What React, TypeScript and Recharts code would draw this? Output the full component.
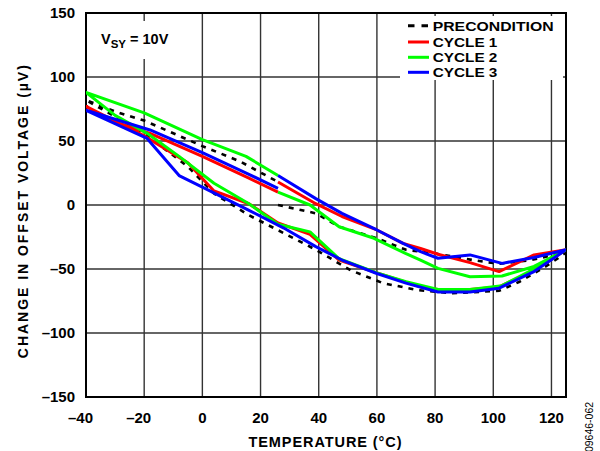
import React from "react";
import { LineChart, Line, XAxis, YAxis, CartesianGrid, ReferenceArea, Legend } from "recharts";

const xTicks = [-40, -20, 0, 20, 40, 60, 80, 100, 120];
const yTicks = [-150, -100, -50, 0, 50, 100, 150];

const preT = [26, 39, 47, 60, 70, 79, 93, 102, 113, 125, 122, 118, 109, 102, 86, 74, 62, 51, 39, 28, 16, 4, -5, -20, -40, -30, -20, 0, 13, 26];
const preV = [0, -6.5, -17, -26, -35, -37.5, -43, -46, -43, -37, -42, -48, -60, -67, -69, -66.5, -61, -51, -35, -22, -8, 9, 30, 56, 82, 73, 66, 46, 34, 18];

const redT = [26, 39, 48, 60, 69, 75, 81, 92, 102, 114, 125, 114, 102, 92, 81, 75, 60, 47, 37, 26, 16, 4, -5, -20, -40, -30, -18, 0, 16, 26];
const redV = [18, 1, -9, -19.5, -30, -34, -38.5, -45, -52, -39, -35, -51, -64, -66, -66, -64, -53, -43, -23, -14, 1, 11, 33, 54, 77, 65, 56, 38, 21, 10];

const greenT = [26, 37, 47, 59, 70, 75, 81, 92, 103, 114, 125, 114, 103, 92, 81, 70, 60, 47, 37, 26, 16, 4, -8, -19, -30, -40, -20, 0, 15, 26];
const greenV = [10, 0, -17, -26, -38, -43, -49.5, -56, -55.5, -48, -35, -50, -63, -66, -66, -60, -53, -42, -21, -15, 1, 17, 38, 56, 70, 88, 72, 51, 38, 23];

const blueT = [26, 39, 48, 60, 69, 75, 81, 92, 103, 114, 125, 114, 102, 92, 81, 70, 60, 48, 39, 28, 15, 0, -8, -19, -40, -30, -18, 0, 16, 26];
const blueV = [23, 5, -6.5, -19.5, -30, -36.5, -41.6, -39, -45.6, -41, -35, -52, -65, -68, -68, -61, -53.5, -43, -32.5, -18, -3, 14, 23, 52, 74, 67, 58.6, 41, 24, 13];

const seriesNames = ["PRECONDITION", "CYCLE 1", "CYCLE 2", "CYCLE 3"];
const seriesColors = ["#000000", "#ff0000", "#00ff00", "#0000ff"];

const zip = (t: number[], v: number[]) => t.map((x, i) => ({ t: x, v: v[i] }));
const preData = zip(preT, preV);
const redData = zip(redT, redV);
const greenData = zip(greenT, greenV);
const blueData = zip(blueT, blueV);

const FONT = "'Liberation Sans', Arial, Helvetica, sans-serif";
const fmt = (v: number) => (v < 0 ? "\u2013" + Math.abs(v) : String(v));

const XTick = (props: any) => {
  const { x, y, payload } = props;
  const v = payload.value as number;
  return (
    <text x={x + (v < 0 ? -5.5 : 0)} y={y + 17.5} textAnchor="middle" fontFamily={FONT} fontWeight="bold" fontSize={15} fill="#000">
      {fmt(v)}
    </text>
  );
};

const YTick = (props: any) => {
  const { x, y, payload } = props;
  return (
    <text x={x - 3} y={y + 5.4} textAnchor="end" fontFamily={FONT} fontWeight="bold" fontSize={15} fill="#000">
      {fmt(payload.value as number)}
    </text>
  );
};

const LegendBox = () => (
  <svg width={163} height={64} style={{ display: "block" }}>
    {seriesNames.map((name, i) => {
      const cy = [9.7, 26, 41.3, 56.3][i];
      return (
        <g key={name}>
          <line x1={8} x2={29} y1={cy} y2={cy} stroke={seriesColors[i]} strokeWidth={3} strokeDasharray={i === 0 ? "6.5 7" : undefined} />
          <text x={32.7} y={cy + 5} fontFamily={FONT} fontWeight="bold" fontSize={13.5} fill="#000" textLength={i === 0 ? 121 : 64.7} lengthAdjust="spacingAndGlyphs">
            {name}
          </text>
        </g>
      );
    })}
  </svg>
);

export default function App() {
  return (
    <div style={{ position: "absolute", left: 0, top: 0, width: 600, height: 451, background: "#fff" }}>
      <LineChart width={600} height={451} margin={{ top: 13, right: 34, left: 0, bottom: 0 }}>
        <CartesianGrid stroke="#333333" strokeWidth={1.4} />
        <XAxis type="number" dataKey="t" domain={[-40, 125]} ticks={xTicks} allowDataOverflow height={54} tickLine={false} axisLine={false} tick={<XTick />} interval={0} />
        <YAxis type="number" dataKey="v" domain={[-150, 150]} ticks={yTicks} allowDataOverflow width={86} tickLine={false} axisLine={false} tick={<YTick />} interval={0} />
        <ReferenceArea x1={-40} x2={125} y1={-150} y2={150} fill="none" stroke="#000" strokeWidth={2} fillOpacity={0} />
        <Line data={preData} dataKey="v" name={seriesNames[0]} stroke={seriesColors[0]} strokeWidth={2.6} strokeDasharray="5 6" dot={false} isAnimationActive={false} type="linear" />
        <Line data={redData} dataKey="v" name={seriesNames[1]} stroke={seriesColors[1]} strokeWidth={3} dot={false} isAnimationActive={false} type="linear" strokeLinejoin="round" />
        <Line data={greenData} dataKey="v" name={seriesNames[2]} stroke={seriesColors[2]} strokeWidth={3} dot={false} isAnimationActive={false} type="linear" strokeLinejoin="round" />
        <Line data={blueData} dataKey="v" name={seriesNames[3]} stroke={seriesColors[3]} strokeWidth={3} dot={false} isAnimationActive={false} type="linear" strokeLinejoin="round" />
        <Legend layout="horizontal" verticalAlign="middle" align="center" content={<LegendBox />}
          wrapperStyle={{ left: 400, top: 16, width: 163, height: 64, background: "#fff", margin: 0, padding: 0 }} />
      </LineChart>
      <svg width={600} height={451} style={{ position: "absolute", left: 0, top: 0, pointerEvents: "none" }}>
        <rect x={92} y={21} width={106} height={38} fill="#fff" />
        <text x={101} y={44} fontFamily={FONT} fontWeight="bold" fontSize={14.5} fill="#000">
          V<tspan fontSize={11.5} dy={3.5}>SY</tspan><tspan fontSize={14.5} dy={-3.5}> = 10V</tspan>
        </text>
        <text x={325} y={446.5} textAnchor="middle" fontFamily={FONT} fontWeight="bold" fontSize={14.5} fill="#000" textLength={153} lengthAdjust="spacing">
          TEMPERATURE (°C)
        </text>
        <text x={28} y={211.7} transform="rotate(-90 28 211.7)" textAnchor="middle" fontFamily={FONT} fontWeight="bold" fontSize={14} fill="#000" textLength={293} lengthAdjust="spacing">
          CHANGE IN OFFSET VOLTAGE (µV)
        </text>
        <text x={593} y={427} transform="rotate(-90 593 427)" textAnchor="middle" fontFamily={FONT} fontSize={10.5} fill="#000">
          09646-062
        </text>
      </svg>
    </div>
  );
}
